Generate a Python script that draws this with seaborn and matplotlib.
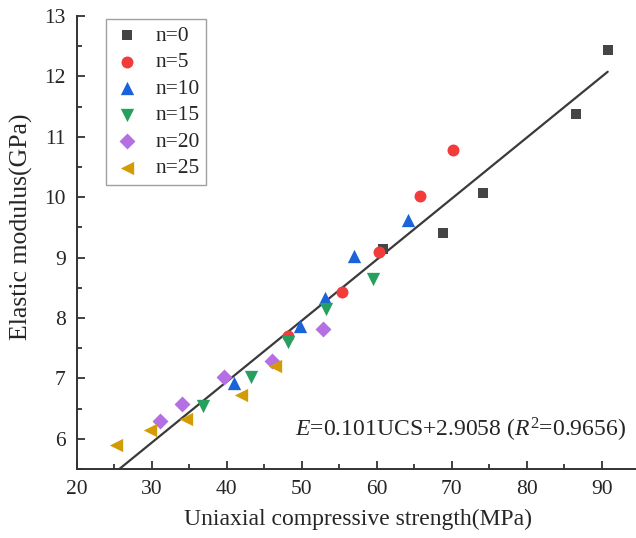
import numpy as np
import pandas as pd
import matplotlib
matplotlib.use("Agg")
import matplotlib.pyplot as plt
import seaborn as sns

# Uniaxial compressive strength (MPa) and elastic modulus (GPa) per freeze-thaw cycle count
ucs_n0 = [60.8, 68.8, 74.2, 86.6, 90.8]
e_n0 = [9.15, 9.41, 10.07, 11.37, 12.43]
ucs_n5 = [48.2, 55.4, 60.35, 65.8, 70.2]
e_n5 = [7.70, 8.43, 9.09, 10.02, 10.78]
ucs_n10 = [41.0, 49.8, 53.1, 57.0, 64.2]
e_n10 = [6.92, 7.86, 8.33, 9.02, 9.62]
ucs_n15 = [36.9, 43.3, 48.2, 53.3, 59.5]
e_n15 = [6.55, 7.03, 7.60, 8.15, 8.64]
ucs_n20 = [31.1, 34.1, 39.6, 46.1, 52.9]
e_n20 = [6.30, 6.58, 7.02, 7.29, 7.81]
ucs_n25 = [25.3, 29.8, 34.6, 41.9, 46.4]
e_n25 = [5.89, 6.15, 6.33, 6.73, 7.21]

group_labels = ["n=0", "n=5", "n=10", "n=15", "n=20", "n=25"]
fit_slope = 0.101
fit_intercept = 2.9058
fit_r2 = 0.9656

x_ticks = [20, 30, 40, 50, 60, 70, 80, 90]
y_ticks = [6, 7, 8, 9, 10, 11, 12, 13]

ucs_groups = [ucs_n0, ucs_n5, ucs_n10, ucs_n15, ucs_n20, ucs_n25]
e_groups = [e_n0, e_n5, e_n10, e_n15, e_n20, e_n25]

frames = []
for lab, xs, ys in zip(group_labels, ucs_groups, e_groups):
    frames.append(pd.DataFrame({"UCS": xs, "E": ys, "group": lab}))
df = pd.concat(frames, ignore_index=True)

colors = ["#454545", "#F23B3B", "#1B63D9", "#26A05E", "#B46FE2", "#D39C05"]
markers = ["s", "o", "^", "v", "D", "<"]
sizes = [58, 74, 92, 92, 66, 92]

sns.set_style("ticks")
plt.rcParams["font.family"] = ["Liberation Serif", "DejaVu Serif"]
plt.rcParams["mathtext.fontset"] = "custom"
plt.rcParams["mathtext.rm"] = "Liberation Serif"
plt.rcParams["mathtext.it"] = "Liberation Serif:italic"

fig = plt.figure(figsize=(6.36, 5.38), dpi=100)
ax = fig.add_axes([76.7 / 636, 69 / 538, 562.5 / 636, 453 / 538])

for lab, col, mk, sz in zip(group_labels, colors, markers, sizes):
    sub = df[df["group"] == lab]
    sns.scatterplot(data=sub, x="UCS", y="E", color=col, marker=mk, s=sz,
                    linewidth=0, ax=ax, label=lab, zorder=3)

# Linear fit over the measured strength range
fit_x = np.array([df["UCS"].min(), df["UCS"].max()])
fit_df = pd.DataFrame({"UCS": fit_x, "E": fit_slope * fit_x + fit_intercept})
sns.lineplot(data=fit_df, x="UCS", y="E", color="#3a3a3a", linewidth=1.6,
             ax=ax, zorder=2, legend=False)

ax.set_xlim(20, 95)
ax.set_ylim(5.5, 13)
ax.set_xticks(x_ticks)
ax.set_yticks(y_ticks)
ax.set_xticks(np.arange(25, 95, 10), minor=True)
ax.set_yticks(np.arange(5.5, 13, 1.0), minor=True)
ax.tick_params(which="major", direction="in", length=6, width=1.3,
               color="#333333", labelsize=15.5, pad=8)
ax.tick_params(which="minor", direction="in", length=3.5, width=1.3,
               color="#333333")
for side in ["top", "right"]:
    ax.spines[side].set_visible(False)
for side in ["left", "bottom"]:
    ax.spines[side].set_linewidth(1.4)
    ax.spines[side].set_color("#333333")

ax.set_xlabel("Uniaxial compressive strength(MPa)", fontsize=17, labelpad=7)
ax.set_ylabel("Elastic modulus(GPa)", fontsize=18.5)
ax.yaxis.label.set_verticalalignment("center")
ax.yaxis.set_label_coords((21 - 76.7) / 562.5, (469 - 227) / 453)

ax.text(0.9765, 0.086,
        r"$E$=0.101UCS+2.9058 ($R^2$=0.9656)",
        transform=ax.transAxes, ha="right", va="center", fontsize=17)

leg = ax.legend(loc="upper left", bbox_to_anchor=(105.7 / 636, 1 - 19.3 / 538),
                bbox_transform=fig.transFigure, borderaxespad=0,
                fancybox=False, edgecolor="#888888", fontsize=15.5,
                handletextpad=0.6, labelspacing=0.3, borderpad=0.3,
                handlelength=1.4)
leg.get_frame().set_linewidth(1.0)

fig.savefig("out.png", dpi=100)
